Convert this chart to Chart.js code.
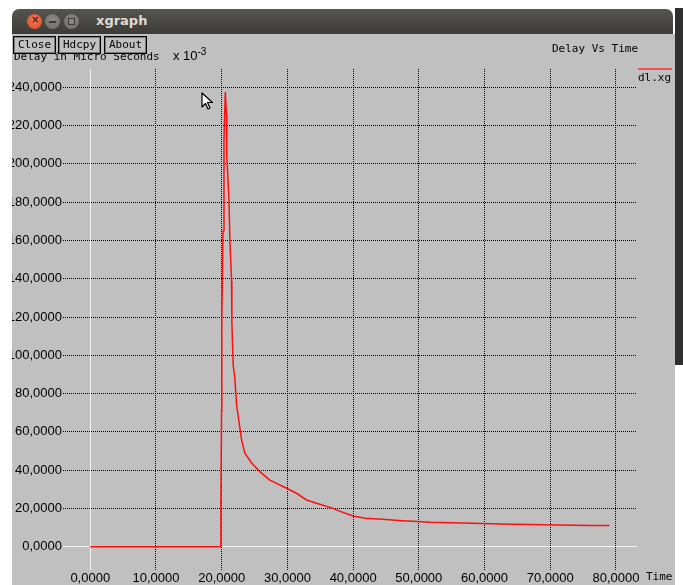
<!DOCTYPE html>
<html>
<head>
<meta charset="utf-8">
<script src="https://cdn.jsdelivr.net/npm/chart.js@4/dist/chart.umd.min.js"></script>
<style>
html,body{margin:0;padding:0;background:#fff;width:683px;height:585px;overflow:hidden;position:relative}
#titlebar{position:absolute;left:12px;top:9px;width:661px;height:25px;background:linear-gradient(#55544f,#3c3b37);border-radius:7px 7px 0 0}
#titlebar .t{position:absolute;left:84px;top:4px;font:bold 13px "DejaVu Sans",sans-serif;color:#dfdbd2}
.dot{position:absolute;top:5px;width:15px;height:15px;border-radius:50%}
#rightedge{position:absolute;left:675px;top:8px;width:8px;height:357px;background:#2f2f2f}
#content{position:absolute;left:12px;top:34px;width:663px;height:551px;background:#c0c0c0;overflow:hidden}
#chartbox{position:absolute;left:0;top:0;width:663px;height:551px}
.mono{font-family:"DejaVu Sans Mono",monospace;font-size:11px;color:#000;white-space:pre;position:absolute;line-height:13px}
.btn{position:absolute;top:2px;height:16px;width:41px;border:1px solid #000;box-shadow:inset 0 0 0 1px #7a7a7a;background:#c0c0c0;text-align:center;line-height:16px}
#ylab{left:2px;top:15px}
#ylab .s{font-family:"Liberation Sans",sans-serif;font-size:13px}
#ylab sup{font-family:"Liberation Sans",sans-serif;font-size:10px;vertical-align:5px;line-height:0}
#title{right:37px;top:8px}
#legend{left:626px;top:34px;border-top:2px solid #f05050;width:34px;padding-top:1px}
#xlab{left:634px;top:536px}
#cursor{position:absolute;left:201px;top:92px}
</style>
</head>
<body>
<div id="titlebar">
  <div class="dot" style="left:15px;background:radial-gradient(circle at 50% 40%,#f27a5a,#d9471f)"><span style="position:absolute;left:4px;top:0px;font:bold 10px 'DejaVu Sans';color:#5a1d0c">×</span></div>
  <div class="dot" style="left:33px;background:radial-gradient(circle at 50% 40%,#8c8b86,#6a6965)"><span style="position:absolute;left:4px;top:7px;width:7px;height:2px;background:#3c3b37"></span></div>
  <div class="dot" style="left:52px;background:radial-gradient(circle at 50% 40%,#8c8b86,#6a6965)"><span style="position:absolute;left:4px;top:4px;width:5px;height:5px;border:1px solid #3c3b37"></span></div>
  <div class="t">xgraph</div>
</div>
<div id="rightedge"></div>
<div id="content">
  <div id="chartbox"><canvas id="c" width="663" height="551"></canvas></div>
  <div class="mono" id="ylab">Delay in Micro Seconds  <span class="s">x 10</span><sup>-3</sup></div>
  <div class="mono btn" style="left:1px">Close</div>
  <div class="mono btn" style="left:46px">Hdcpy</div>
  <div class="mono btn" style="left:92px">About</div>
  <div class="mono" id="title">Delay Vs Time</div>
  <div class="mono" id="legend">dl.xg</div>
  <div class="mono" id="xlab">Time</div>
</div>
<svg id="cursor" width="14" height="19" viewBox="0 0 14 19"><path d="M1 1 L1 15 L4.5 11.5 L7 17 L9 16 L6.5 10.5 L11.5 10.5 Z" fill="#fff" stroke="#000" stroke-width="1.2" stroke-linejoin="round"/></svg>
<script>
const timeValues  = [0, 19.85, 19.88, 19.98, 20.02, 20.2, 20.35, 20.55, 20.72, 20.78, 21.1, 21.25, 21.5, 21.55, 21.75, 22.0, 22.27, 22.66, 23.03, 23.53, 24.55, 25.81, 27.33, 29.87, 31.39, 32.91, 34.43, 36.96, 37.7, 40.0, 41.8, 44.5, 47.4, 49.1, 51.7, 58.0, 62.6, 68.9, 76.0, 79.0];
const delayValues = [0, 0, 23.5, 71, 120, 165, 213, 237.5, 226, 204, 182, 160, 139, 117, 95, 88, 74, 64.6, 55.7, 48.9, 43.7, 39.2, 34.8, 30.5, 27.9, 24.4, 22.7, 20.0, 18.8, 16.0, 14.8, 14.3, 13.6, 13.3, 12.7, 12.2, 11.9, 11.5, 11.0, 11.0];
const xTicks = [0, 10, 20, 30, 40, 50, 60, 70, 80];
const yTicks = [0, 20, 40, 60, 80, 100, 120, 140, 160, 180, 200, 220, 240];

const points = timeValues.map((t, i) => ({x: t, y: delayValues[i]}));
const fmt = v => Number(v).toFixed(4).replace('.', ',');
const gridColor = c => (c.tick && c.tick.value === 0) ? '#f2f2f2' : '#000';
const gridDash = c => (c.tick && c.tick.value === 0) ? [] : [1, 1];
const tickFont = {family: '"Liberation Sans", Arial, sans-serif', size: 13};

new Chart(document.getElementById('c'), {
  type: 'scatter',
  data: {datasets: [{
    label: 'dl.xg',
    data: points,
    showLine: true,
    borderColor: '#ff1010',
    borderWidth: 1.5,
    pointRadius: 0,
    tension: 0,
    fill: false
  }]},
  options: {
    responsive: false,
    animation: false,
    devicePixelRatio: 1,
    layout: {padding: {left: 0, top: 35, right: 38, bottom: 0}},
    plugins: {legend: {display: false}, tooltip: {enabled: false}},
    scales: {
      x: {
        type: 'linear', min: -4.15, max: 83.2,
        afterBuildTicks: s => { s.ticks = xTicks.map(v => ({value: v})); },
        afterFit: s => { s.height = 15; },
        grid: {color: gridColor, lineWidth: 1, drawTicks: false},
        border: {display: false, dash: gridDash},
        ticks: {color: '#000', font: tickFont, padding: 1, maxRotation: 0, autoSkip: false, callback: fmt}
      },
      y: {
        type: 'linear', min: -12.2, max: 249.6,
        afterBuildTicks: s => { s.ticks = yTicks.map(v => ({value: v})); },
        afterFit: s => { s.width = 51; },
        grid: {color: gridColor, lineWidth: 1, drawTicks: false},
        border: {display: false, dash: gridDash},
        ticks: {color: '#000', font: tickFont, padding: 1, autoSkip: false, callback: fmt}
      }
    }
  }
});
</script>
</body>
</html>
